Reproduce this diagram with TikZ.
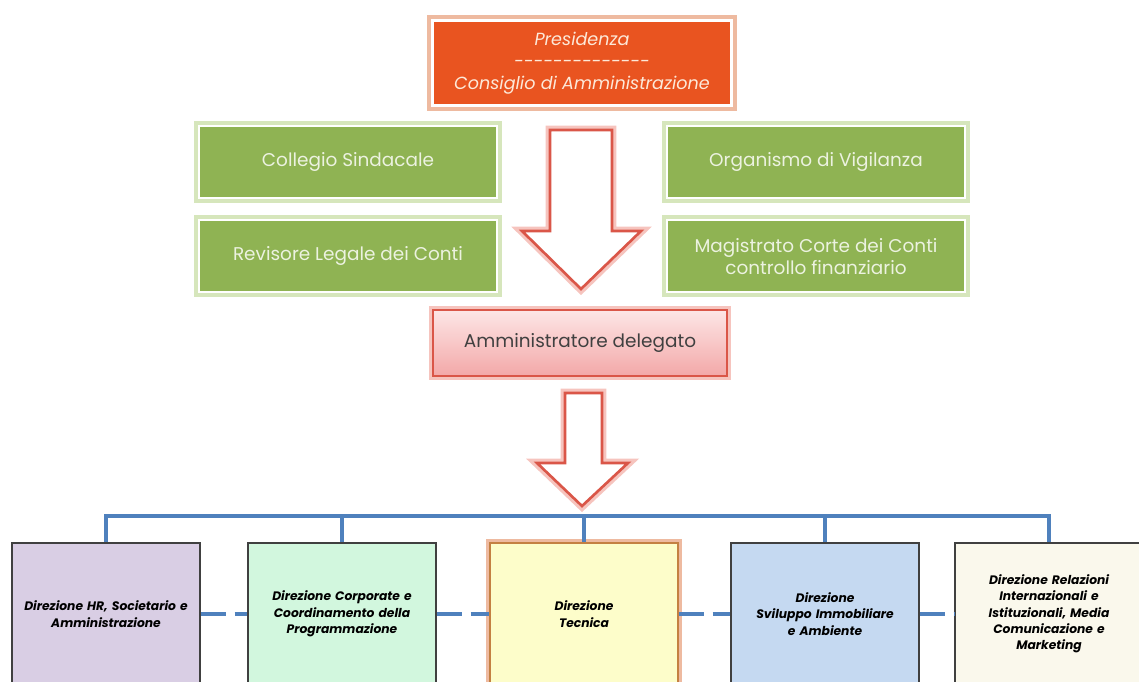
\documentclass[tikz,border=0pt]{standalone}
\usepackage{fontspec}
\setmainfont{Poppins}
\usepackage{color}
\definecolor{myorange}{RGB}{233,84,32}
\definecolor{myorangeglow}{RGB}{238,186,160}
\definecolor{mypeach}{RGB}{253,233,217}
\definecolor{mygreen}{RGB}{143,179,83}
\definecolor{mygreenglow}{RGB}{214,230,188}
\definecolor{mygreentext}{RGB}{236,242,224}
\definecolor{mypinktop}{RGB}{253,230,230}
\definecolor{mypinkbottom}{RGB}{243,168,168}
\definecolor{myred}{RGB}{218,86,72}
\definecolor{myredglow}{RGB}{246,196,190}
\definecolor{myblue}{RGB}{79,129,189}
\definecolor{mylavender}{RGB}{217,206,228}
\definecolor{mymint}{RGB}{210,247,222}
\definecolor{myyellow}{RGB}{253,253,202}
\definecolor{mylightblue}{RGB}{197,217,241}
\definecolor{mycream}{RGB}{250,248,236}
\definecolor{mydarkgray}{RGB}{64,64,64}
\definecolor{mybrown}{RGB}{196,128,66}
\usepackage{tikz}
\usetikzlibrary{positioning}
\tikzstyle{presbox}=[draw=white,line width=1.2pt,fill=myorange,preaction={draw=myorangeglow,line width=6pt},minimum width=5.98cm,minimum height=1.7cm,align=center,text=mypeach,font=\fontsize{10}{12.5}\selectfont\itshape]
\tikzstyle{greenbox}=[draw=white,line width=1.2pt,fill=mygreen,preaction={draw=mygreenglow,line width=6pt},minimum width=5.96cm,minimum height=1.44cm,align=center,text=mygreentext,font=\fontsize{10.5}{12.5}\selectfont]
\tikzstyle{adbox}=[draw=myred,line width=1.2pt,top color=mypinktop,bottom color=mypinkbottom,preaction={draw=myredglow,line width=5pt},minimum width=5.88cm,minimum height=1.32cm,text=mydarkgray,font=\fontsize{10.5}{12}\selectfont]
\tikzstyle{hollowarrow}=[draw=myred,line width=1.5pt,fill=white,line join=miter,preaction={draw=myredglow,line width=5pt}]
\tikzstyle{dirbox}=[draw=mydarkgray,line width=1.3pt,minimum width=3.76cm,minimum height=2.84cm,text width=3.5cm,inner xsep=0.1cm,align=center,font=\fontsize{7}{9.3}\selectfont\bfseries\itshape]
\tikzstyle{busline}=[draw=myblue,line width=1.8pt]
\tikzstyle{dashline}=[draw=myblue,line width=1.8pt,dash pattern=on 14pt off 5pt]

\begin{document}
\begin{tikzpicture}[x=0.02cm,y=-0.02cm]
\useasboundingbox (0,0) rectangle (1139,681);
\clip (0,0) rectangle (1139,681);
% top of the chart
\node [presbox] (pres) at (582,63) {Presidenza\\-{}-{}-{}-{}-{}-{}-{}-{}-{}-{}-{}-{}-{}-\\Consiglio di Amministrazione};
\node [greenbox] (cs) at (348,162) {Collegio Sindacale};
\node [greenbox, below=0.4cm of cs] (rl) {Revisore Legale dei Conti};
\node [greenbox] (ov) at (816,162) {Organismo di Vigilanza};
\node [greenbox, below=0.4cm of ov, align=center] (mc) {Magistrato Corte dei Conti\\controllo finanziario};
\node [adbox] (ad) at (580,343) {Amministratore delegato};
% arrows
\draw [hollowarrow] (550,130) -- (612,130) -- (612,231) -- (641,231) -- (581,289) -- (522,231) -- (550,231) -- cycle;
\draw [hollowarrow] (565,393) -- (602,393) -- (602,463) -- (628,463) -- (582,506) -- (537,463) -- (565,463) -- cycle;
% direzioni
\node [dirbox, fill=mylavender] (d1) at (106,614) {Direzione HR, Societario e\\Amministrazione\\[12pt]};
\node [dirbox, fill=mymint] (d2) at (342,614) {Direzione Corporate e\\Coordinamento della\\Programmazione\\[3pt]};
\node [dirbox, fill=myyellow, draw=mybrown, preaction={draw=myorangeglow,line width=5pt}] (d3) at (584,614) {Direzione\\Tecnica\\[3pt]};
\node [dirbox, fill=mylightblue] (d4) at (825,614) {Direzione\\Sviluppo Immobiliare\\e Ambiente\\[3pt]};
\node [dirbox, fill=mycream] (d5) at (1049,614) {Direzione Relazioni\\Internazionali e\\Istituzionali, Media\\Comunicazione e\\Marketing};
\coordinate (bus) at (581,516);
\draw [busline] (d1.north) |- (bus) -| (d5.north);
\draw [busline] (d2.north) -- (d2.north |- bus);
\draw [busline] (d3.north) -- (d3.north |- bus);
\draw [busline] (d4.north) -- (d4.north |- bus);
\draw [dashline] (d1) -- (d2);
\draw [dashline] (d2) -- (d3);
\draw [dashline] (d3) -- (d4);
\draw [dashline] (d4) -- (d5);
\end{tikzpicture}
\end{document}
